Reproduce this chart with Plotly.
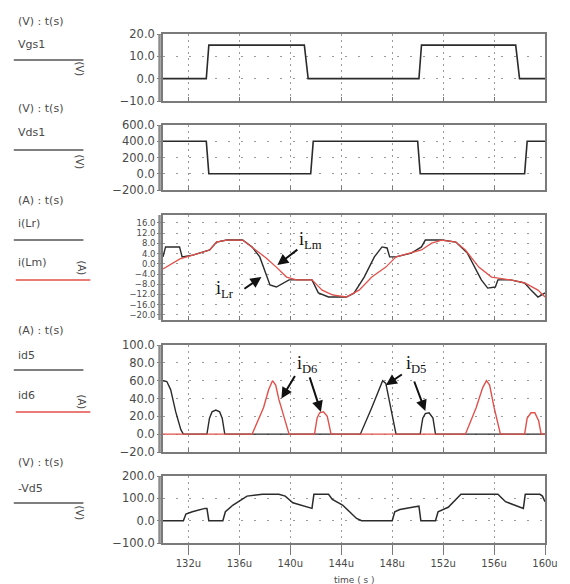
import plotly.graph_objects as go

# ---- time axis (microseconds) ----
T_RANGE = [130, 160]
T_TICKS = [132, 136, 140, 144, 148, 152, 156, 160]
T_LABELS = [f"{v}u" for v in T_TICKS]

# ---- gate voltage Vgs1 (V) ----
vgs1_t = [130.0, 133.4, 133.6, 141.1, 141.4, 150.1, 150.3, 157.7, 158.0, 160.0]
vgs1_v = [0, 0, 15, 15, 0, 0, 15, 15, 0, 0]

# ---- drain-source voltage Vds1 (V) ----
vds1_t = [130.0, 133.4, 133.6, 141.6, 141.8, 150.0, 150.2, 158.4, 158.6, 160.0]
vds1_v = [400, 400, 0, 0, 400, 400, 0, 0, 400, 400]

# ---- resonant inductor current i(Lr) (A) ----
ilr_t = [130.0, 130.2, 131.3, 131.5, 132.34, 133.67, 134.2, 135.0, 136.25, 137.0,
         137.6, 138.4, 138.9, 139.9, 140.5, 141.7, 142.2, 143.0, 144.4, 145.0,
         145.8, 146.6, 147.2, 147.6, 147.8, 148.3, 149.5, 150.3, 150.6, 151.9,
         153.0, 153.9, 155.0, 155.5, 156.1, 156.3, 157.3, 158.4, 158.9, 159.45, 160.0]
ilr_v = [2.7, 6.6, 6.6, 2.7, 3.4, 5.4, 8.5, 9.3, 9.3, 6.6,
         2.7, -8.3, -9.1, -6.3, -6.3, -6.3, -11.4, -13.0, -13.0, -11.5,
         -5.2, 2.7, 6.6, 6.2, 2.7, 2.7, 4.2, 6.6, 9.3, 9.3,
         8.5, 4.2, -6.3, -9.5, -9.1, -6.3, -6.3, -7.5, -10.3, -13.0, -11.4]

# ---- magnetizing current i(Lm) (A) ----
ilm_t = [130.0, 131.33, 132.34, 133.67, 134.2, 135.0, 136.25, 137.0, 138.1, 138.9,
         139.7, 140.5, 141.7, 142.5, 143.3, 144.4, 145.4, 146.4, 147.5, 148.3,
         149.5, 150.3, 151.1, 151.9, 153.0, 153.75, 154.8, 155.8, 157.3, 158.4,
         159.45, 160.0]
ilm_v = [-2.0, 1.9, 3.4, 5.4, 8.5, 9.3, 9.3, 6.6, 2.3, -1.3,
         -5.2, -6.3, -6.3, -10.3, -12.2, -13.0, -10.3, -5.2, -1.3, 2.7,
         4.2, 5.4, 8.1, 9.3, 8.5, 5.4, -1.3, -5.2, -6.3, -7.5,
         -10.3, -13.0]

# ---- rectifier diode currents id5 / id6 (A) ----
id5_t = [130.0, 130.3, 130.6, 131.0, 131.4, 131.6, 133.45, 133.65, 133.85, 134.15,
         134.45, 134.65, 134.85, 145.5, 146.4, 147.0, 147.25, 147.5, 147.9, 148.3,
         150.2, 150.4, 150.6, 150.9, 151.2, 151.4, 160.0]
id5_v = [60, 59, 50, 25, 5, 0, 0, 18, 25, 27,
         25, 18, 0, 0, 30, 52, 60, 57, 28, 0,
         0, 18, 23, 24, 18, 0, 0]

id6_t = [130.0, 137.0, 137.9, 138.3, 138.6, 138.85, 139.1, 139.9, 141.9, 142.1,
         142.3, 142.6, 142.9, 143.2, 153.75, 154.6, 155.1, 155.4, 155.65, 156.0,
         156.5, 158.4, 158.6, 158.9, 159.2, 159.5, 159.7, 160.0]
id6_v = [0, 0, 30, 50, 60, 55, 39, 0, 0, 18,
         24, 25, 20, 0, 0, 30, 52, 60, 55, 30,
         0, 0, 18, 24, 24, 15, 0, 0]

# ---- diode voltage -Vd5 (V) ----
vd5_t = [130.0, 131.6, 131.8, 132.3, 133.3, 133.45, 133.6, 134.7, 134.9, 135.5,
         136.6, 137.8, 139.1, 139.6, 139.9, 140.2, 141.7, 141.85, 143.0, 143.3,
         144.1, 145.2, 145.6, 148.0, 148.2, 148.6, 149.8, 150.1, 150.25, 151.4,
         151.6, 152.4, 153.4, 156.3, 156.9, 158.3, 158.45, 159.6, 159.8, 160.0]
vd5_v = [0, 0, 30, 40, 55, 55, 0, 0, 40, 70,
         110, 118, 118, 110, 95, 80, 55, 118, 118, 95,
         70, 10, 0, 0, 40, 50, 62, 65, 0, 0,
         40, 60, 118, 118, 85, 55, 118, 118, 110, 85]

# ---- panel definitions: y range, ticks ----
Y_RANGES = [[-10, 20], [-200, 600], [-22, 19.1], [-20, 100], [-100, 200]]
Y_TICKS = [
    [-10, 0, 10, 20],
    [-200, 0, 200, 400, 600],
    [-20, -16, -12, -8, -4, 0, 4, 8, 12, 16],
    [-20, 0, 20, 40, 60, 80, 100],
    [-100, 0, 100, 200],
]
Y_FONT = [11.5, 11.5, 8.5, 11.5, 11.5]

W, H = 570, 584
ML, MR, MT, MB = 163, 23, 34, 41
PW = W - ML - MR
PH = H - MT - MB


def px_x(x):
    return (x - ML) / PW


def px_y(y):
    return (H - MB - y) / PH


# top/bottom pixel rows of each panel frame
PANEL_PX = [(34, 101), (125, 190), (215, 320), (345, 452), (476, 543)]
DOMAINS = [[px_y(b), px_y(t)] for t, b in PANEL_PX]

BLACK = "#2b2b2b"
RED = "#e2504a"
FRAME = "#7a7a7a"
GRID = "#9a9a9a"
TXT = "#4a4a4a"

fig = go.Figure()


def add(t, v, row, color, width=1.5):
    fig.add_trace(go.Scatter(
        x=t, y=v, mode="lines",
        line=dict(color=color, width=width),
        xaxis="x" if row == 1 else f"x{row}",
        yaxis="y" if row == 1 else f"y{row}",
        showlegend=False, hoverinfo="skip",
    ))


add(vgs1_t, vgs1_v, 1, BLACK, 1.6)
add(vds1_t, vds1_v, 2, BLACK, 1.6)
add(ilr_t, ilr_v, 3, BLACK, 1.4)
add(ilm_t, ilm_v, 3, RED, 1.3)
add(id5_t, id5_v, 4, BLACK, 1.4)
add(id6_t, id6_v, 4, RED, 1.4)
add(vd5_t, vd5_v, 5, BLACK, 1.5)

layout = dict(
    width=W, height=H,
    margin=dict(l=ML, r=MR, t=MT, b=MB),
    paper_bgcolor="white", plot_bgcolor="white",
    showlegend=False,
    font=dict(family="DejaVu Sans", color=TXT),
)

for i in range(5):
    row = i + 1
    xs = "" if row == 1 else str(row)
    bottom = row == 5
    layout[f"xaxis{xs}"] = dict(
        domain=[0, 1], anchor=f"y{xs}", range=T_RANGE,
        tickvals=T_TICKS, ticktext=T_LABELS,
        showticklabels=bottom,
        ticks="outside" if bottom else "inside",
        ticklen=10 if bottom else 4, tickcolor=FRAME, tickwidth=1.2,
        tickfont=dict(size=10, color=TXT, family="DejaVu Sans"),
        showline=True, linecolor=FRAME, linewidth=1.6, mirror=True,
        showgrid=True, gridcolor=GRID, gridwidth=1, griddash="2px,4px",
        zeroline=False, fixedrange=True,
    )
    layout[f"yaxis{xs}"] = dict(
        domain=DOMAINS[i], anchor=f"x{xs}", range=Y_RANGES[i],
        tickvals=Y_TICKS[i], tickformat=".1f",
        ticks="outside", ticklen=4, tickcolor=FRAME,
        tickfont=dict(size=Y_FONT[i], color=TXT, family="DejaVu Sans"),
        showline=True, linecolor=FRAME, linewidth=1.6, mirror=True,
        showgrid=True, gridcolor=GRID, gridwidth=1, griddash="2px,11px",
        zeroline=False, fixedrange=True,
    )

shapes = []
# heavy double rule on the left edge of every panel
for lo, hi in DOMAINS:
    shapes.append(dict(type="line", xref="paper", yref="paper",
                       x0=px_x(159.5), x1=px_x(159.5), y0=lo, y1=hi,
                       line=dict(color="#8c8c8c", width=2.5)))

annotations = []


def note(x, y, text, size=11, color=TXT):
    annotations.append(dict(xref="paper", yref="paper", x=px_x(x), y=px_y(y),
                            text=text, showarrow=False, xanchor="left",
                            yanchor="middle",
                            font=dict(size=size, color=color, family="DejaVu Sans")))


def key_line(y, color, x0=13, x1=83):
    shapes.append(dict(type="line", xref="paper", yref="paper",
                       x0=px_x(x0), x1=px_x(x1), y0=px_y(y), y1=px_y(y),
                       line=dict(color=color, width=1.5)))


def unit(x, y, text):
    annotations.append(dict(xref="paper", yref="paper", x=px_x(x), y=px_y(y),
                            text=text, showarrow=False, textangle=90,
                            xanchor="center", yanchor="middle",
                            font=dict(size=10, color=TXT, family="DejaVu Sans")))


# signal keys to the left of each panel
note(15, 21, "(V) : t(s)")
note(15, 45, "Vgs1")
key_line(60, "#555555")
unit(80, 69, "(V)")

note(15, 108, "(V) : t(s)")
note(15, 133, "Vds1")
key_line(150, "#555555")
unit(80, 162, "(V)")

note(15, 200, "(A) : t(s)")
note(15, 223, "i(Lr)")
key_line(240, "#555555")
note(15, 262, "i(Lm)")
key_line(280, RED, 15, 90)
unit(82, 268, "(A)")

note(15, 330, "(A) : t(s)")
note(15, 355, "id5")
key_line(370, "#555555")
note(15, 395, "id6")
key_line(412, RED, 15, 90)
unit(82, 402, "(A)")

note(15, 462, "(V) : t(s)")
note(15, 488, "-Vd5")
key_line(503, "#555555")
unit(80, 513, "(V)")

# x-axis title at the lower page edge
annotations.append(dict(xref="paper", yref="paper", x=0.5, y=px_y(573),
                        text="time ( s )", showarrow=False,
                        xanchor="center", yanchor="top",
                        font=dict(size=9, color=TXT, family="DejaVu Sans")))

SERIF = "Liberation Serif"


def label(xa, ya, x, y, text):
    annotations.append(dict(xref=xa, yref=ya, x=x, y=y, text=text,
                            showarrow=False,
                            font=dict(size=18, color="#111111", family=SERIF)))


def arrow(xa, ya, x, y, ax, ay):
    annotations.append(dict(xref=xa, yref=ya, x=x, y=y, text=" ",
                            showarrow=True, ax=ax, ay=ay,
                            arrowhead=2, arrowsize=1.1, arrowwidth=2,
                            arrowcolor="#111111", font=dict(size=2)))


# current labels with pointers
label("x3", "y3", 141.6, 9.3, "i<sub>Lm</sub>")
arrow("x3", "y3", 138.98, -0.5, 22, -17)
label("x3", "y3", 134.9, -9.9, "i<sub>Lr</sub>")
arrow("x3", "y3", 137.73, -5.2, -19, 13)

label("x4", "y4", 141.3, 78, "i<sub>D6</sub>")
arrow("x4", "y4", 139.3, 40, 15, -25)
arrow("x4", "y4", 142.4, 25, -12, -37)
label("x4", "y4", 149.9, 78, "i<sub>D5</sub>")
arrow("x4", "y4", 147.5, 55, 18, -12)
arrow("x4", "y4", 150.6, 26, -12, -32)

layout["shapes"] = shapes
layout["annotations"] = annotations
fig.update_layout(**layout)

fig.write_html("out.html", config={"displayModeBar": False})
